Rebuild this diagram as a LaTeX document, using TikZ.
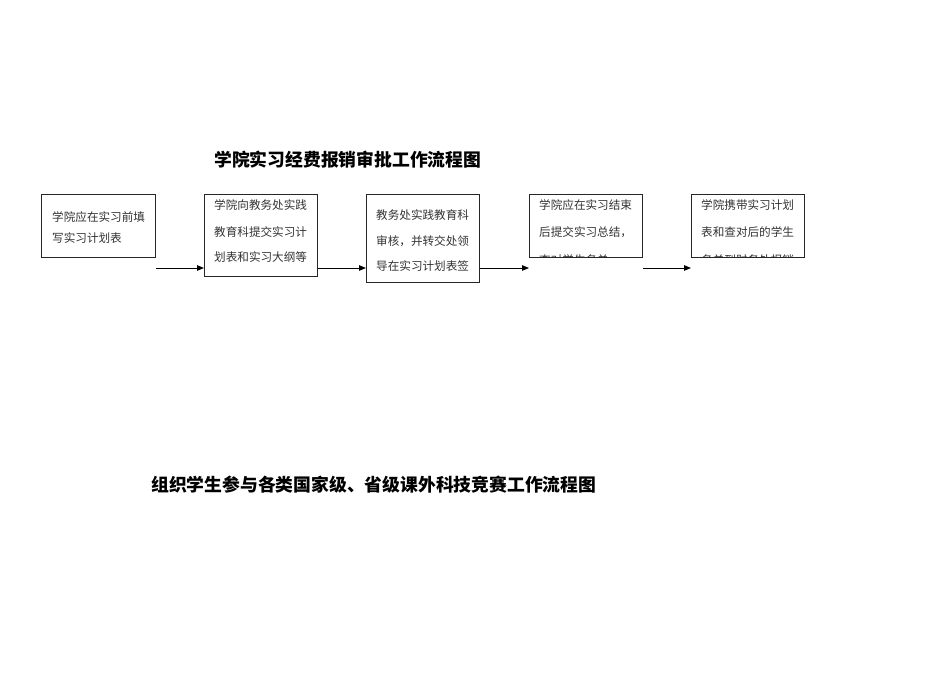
\documentclass[tikz,border=0pt]{standalone}
\usepackage{fontspec}
\newfontfamily\cjk{Noto Sans CJK SC}
\usetikzlibrary{arrows.meta}
\begin{document}
\begin{tikzpicture}[x=1pt,y=-1pt,
  flowbox/.style={draw=black!85,line width=1pt,anchor=north west,inner sep=0pt},
  boxtxt/.style={anchor=west,inner sep=0pt,font=\cjk\fontsize{11.6pt}{13pt}\selectfont,text=black!80},
  titletxt/.style={anchor=west,inner sep=0pt,font=\cjk\bfseries\fontsize{17.8pt}{20pt}\selectfont},
  arr/.style={draw=black,line width=1pt,-{Triangle[length=7pt,width=5.5pt]}}]
\useasboundingbox[fill=white] (0,0) rectangle (950,672);
\node[titletxt] (t1) at (214,160) {学院实习经费报销审批工作流程图};
\node[titletxt] (t2) at (151,485) {组织学生参与各类国家级、省级课外科技竞赛工作流程图};
% boxes
\node[flowbox,minimum width=114pt,minimum height=63pt] (b1) at (41,194) {};
\node[flowbox,minimum width=113pt,minimum height=82pt] (b2) at (204,194) {};
\node[flowbox,minimum width=113pt,minimum height=88pt] (b3) at (366,194) {};
\node[flowbox,minimum width=113pt,minimum height=63pt] (b4) at (529,194) {};
\node[flowbox,minimum width=113pt,minimum height=63pt] (b5) at (691,194) {};
% box texts
\node[boxtxt] (b1l1) at (52,217) {学院应在实习前填};
\node[boxtxt] (b1l2) at (52,238) {写实习计划表};
\node[boxtxt] (b2l1) at (214,205) {学院向教务处实践};
\node[boxtxt] (b2l2) at (214,232) {教育科提交实习计};
\node[boxtxt] (b2l3) at (214,257) {划表和实习大纲等};
\node[boxtxt] (b3l1) at (376,215) {教务处实践教育科};
\node[boxtxt] (b3l2) at (376,241) {审核，并转交处领};
\node[boxtxt] (b3l3) at (376,266) {导在实习计划表签};
\begin{scope}
\clip (529.5,194.5) rectangle (641.5,256.5);
\node[boxtxt] (b4l1) at (539,205) {学院应在实习结束};
\node[boxtxt] (b4l2) at (539,232) {后提交实习总结，};
\node[boxtxt] (b4l3) at (539,260.5) {查对学生名单};
\end{scope}
\begin{scope}
\clip (691.5,194.5) rectangle (803.5,256.5);
\node[boxtxt] (b5l1) at (701,205) {学院携带实习计划};
\node[boxtxt] (b5l2) at (701,232) {表和查对后的学生};
\node[boxtxt] (b5l3) at (701,260.5) {名单到财务处报销};
\end{scope}
% arrows
\coordinate (ay) at (0,268);
\draw[arr] (b1.east |- ay) -- (b2.west |- ay);
\draw[arr] (b2.east |- ay) -- (b3.west |- ay);
\draw[arr] (b3.east |- ay) -- (b4.west |- ay);
\draw[arr] (b4.east |- ay) -- (b5.west |- ay);
\end{tikzpicture}
\end{document}
